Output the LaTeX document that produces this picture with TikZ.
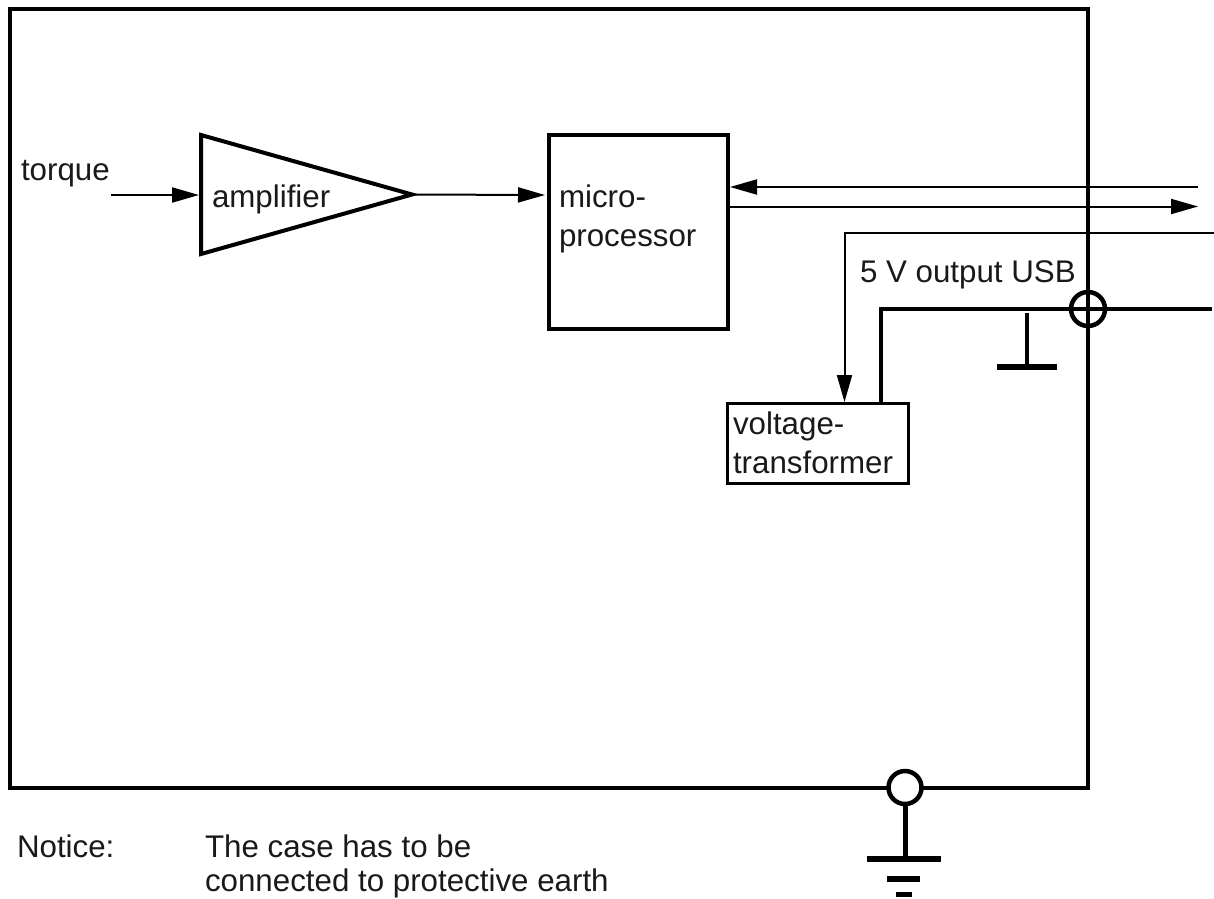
\documentclass[tikz,border=0pt]{standalone}
\usepackage{fontspec}
\setmainfont{Liberation Sans}
\usetikzlibrary{arrows.meta}
\tikzset{
  heavy/.style={line width=4pt,draw=black},
  boxshape/.style={draw=black,line width=3.5pt,rectangle,inner sep=0pt,outer sep=0pt,anchor=north west},
  label text/.style={anchor=base west,inner sep=0pt,outer sep=0pt,font=\fontsize{31.3}{36}\selectfont,text=black!90},
  signal/.style={line width=2pt,draw=black},
  signal arrow/.style={signal,-{Triangle[length=27pt,width=15pt,fill=black]}},
  port/.style={circle,draw=black,line width=4.5pt,minimum size=34pt,inner sep=0pt,outer sep=0pt},
  groundbar/.style={draw=black,line cap=butt},
}
\begin{document}
\begin{tikzpicture}[x=1pt,y=-1pt]
\useasboundingbox (0,0) rectangle (1214,898);
% case
\draw[heavy] (10,9) rectangle (1088,788);
% amplifier
\coordinate (ampA) at (201,135);
\coordinate (ampB) at (201,254);
\coordinate (ampC) at (412,194.5);
\draw[heavy,line join=miter] (ampA) -- (ampC) -- (ampB) -- cycle;
\node[label text] (amptext) at (212,207) {amplifier};
\node[label text] (torque) at (21,180) {torque};
% microprocessor
\node[boxshape,minimum width=179pt,minimum height=194pt] (micro) at (549,135) {};
\node[label text] (microtext1) at (559,207) {micro-};
\node[label text] (microtext2) at (559,246) {processor};
% voltage transformer
\node[boxshape,line width=3pt,minimum width=181pt,minimum height=80pt] (volt) at (727.5,403) {};
\node[label text] (volttext1) at (733,434) {voltage-};
\node[label text] (volttext2) at (733,473) {transformer};
\node[label text] (usb) at (860,282) {5 V output USB};
% signal lines
\coordinate (torqueIn) at (111,195);
\coordinate (ampIn) at (199,195);
\coordinate (microIn) at (545,195);
\coordinate (extIn) at (1198,187);
\coordinate (microPortIn) at (730,187);
\coordinate (microOut) at (730,206.5);
\coordinate (extOut) at (1198,206.5);
\coordinate (usbExt) at (1214,232.5);
\coordinate (usbCorner) at (844.5,232.5);
\coordinate (voltIn) at (844.5,402);
\draw[signal arrow] (torqueIn) -- (ampIn);
\draw[signal arrow] (ampC) -- (microIn);
\draw[signal arrow] (extIn) -- (microPortIn);
\draw[signal arrow] (microOut) -- (extOut);
\draw[signal,-{Triangle[length=27pt,width=15pt,fill=black]}] (usbExt) -- (usbCorner) -- (voltIn);
% power line and port
\coordinate (powerStart) at (880.5,403);
\coordinate (powerCorner) at (880.5,309);
\coordinate (powerEnd) at (1212,309);
\draw[heavy,line join=miter] (powerStart) -- (powerCorner) -- (powerEnd);
\node[port] (usbport) at (1088,309) {};
% signal ground
\coordinate (gndTop) at (1027,313);
\coordinate (gndBase) at (1027,367);
\coordinate (gndL) at (997,367);
\coordinate (gndR) at (1057,367);
\draw[line width=4pt,draw=black] (gndTop) -- (gndBase);
\draw[groundbar,line width=5.5pt] (gndL) -- (gndR);
% protective earth
\node[port,fill=white,minimum size=33pt] (earthport) at (905,787.5) {};
\coordinate (peBase) at (905,859);
\coordinate (peL) at (867,859);
\coordinate (peR) at (941,859);
\coordinate (pe2L) at (887,879);
\coordinate (pe2R) at (920,879);
\coordinate (pe3L) at (896,894.5);
\coordinate (pe3R) at (912,894.5);
\draw[line width=5pt,draw=black] (earthport) -- (peBase);
\draw[groundbar,line width=6pt] (peL) -- (peR);
\draw[groundbar,line width=5.5pt] (pe2L) -- (pe2R);
\draw[groundbar,line width=4.5pt] (pe3L) -- (pe3R);
% notice
\node[label text] (notice) at (17,857) {Notice:};
\node[label text] (note1) at (205,857) {The case has to be};
\node[label text] (note2) at (205,891.5) {connected to protective earth};
\end{tikzpicture}
\end{document}
